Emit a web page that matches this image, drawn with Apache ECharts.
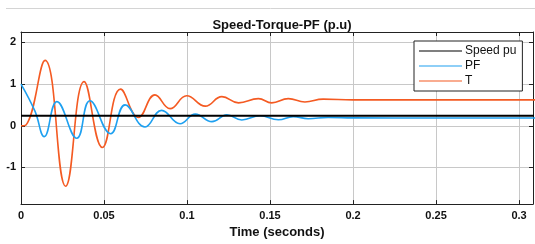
<!DOCTYPE html>
<html>
<head>
<meta charset="utf-8">
<script src="https://cdn.jsdelivr.net/npm/echarts@6/dist/echarts.min.js"></script>
<style>
  html, body { margin: 0; padding: 0; background: #fff; }
  #chart { width: 535px; height: 244px; }
</style>
</head>
<body>
<div id="chart"></div>
<script>
  // values (time in s, p.u.)
  var seriesNames = ['Speed pu', 'PF', 'T'];
  var xTicks = [0, 0.05, 0.1, 0.15, 0.2, 0.25, 0.3];
  var yTicks = [-1, 0, 1, 2];

  var speedTime = [0, 0.31];
  var speedVals = [0.24, 0.24];

  var pfTime = [0, 0.0084, 0.014, 0.0216, 0.0336, 0.0415, 0.054, 0.0627, 0.0747, 0.0847, 0.0958, 0.105,
                0.115, 0.124, 0.133, 0.144, 0.155, 0.164, 0.173, 0.185, 0.2, 0.25, 0.31];
  var pfVals = [1.0, 0.35, -0.26, 0.58, -0.30, 0.60, -0.19, 0.50, -0.03, 0.37, 0.05, 0.28,
                0.10, 0.26, 0.14, 0.24, 0.145, 0.22, 0.17, 0.2, 0.19, 0.185, 0.185];

  var tTime = [0, 0.003, 0.0145, 0.0269, 0.038, 0.049, 0.060, 0.0707, 0.0807, 0.0898, 0.0998, 0.111,
               0.121, 0.131, 0.143, 0.151, 0.161, 0.171, 0.182, 0.2, 0.25, 0.31];
  var tVals = [0, 0.02, 1.57, -1.45, 1.06, -0.52, 0.88, 0.20, 0.74, 0.41, 0.72, 0.47,
               0.70, 0.55, 0.65, 0.55, 0.65, 0.57, 0.64, 0.62, 0.62, 0.62];

  function pairs(xs, ys) {
    return xs.map(function (x, i) { return [x, ys[i]]; });
  }

  var myChart = echarts.init(document.getElementById('chart'));
  var font = 'Liberation Sans, Arial, sans-serif';

  // plain box edge (top / right) with inward ticks, like matlab "box on"
  function boxAxis(pos, min, max, ticks) {
    return {
      type: 'value', min: min, max: max, position: pos,
      axisLine: { show: true, onZero: false, lineStyle: { color: '#222', width: 1 } },
      axisTick: { show: true, inside: true, length: 4, customValues: ticks, lineStyle: { color: '#222' } },
      splitLine: { show: false },
      axisLabel: { show: false }
    };
  }

  var options = {
    animation: false,
    backgroundColor: '#fff',
    title: {
      text: 'Speed-Torque-PF (p.u)',
      left: 277, top: 14, textAlign: 'center',
      textStyle: { fontFamily: font, fontSize: 13, fontWeight: 'bold', color: '#111' }
    },
    graphic: [
      { type: 'line', shape: { x1: 6, y1: 8.5, x2: 535, y2: 8.5 }, style: { stroke: '#d4d4d4', lineWidth: 1 } }
    ],
    legend: {
      data: seriesNames,
      orient: 'vertical',
      left: 414, top: 41,
      width: 107,
      padding: [4, 6, 4, 5],
      itemGap: 3,
      itemWidth: 43, itemHeight: 11.5,
      icon: 'path://M0,5 L43,5 L43,6 L0,6 Z',
      backgroundColor: '#fff',
      borderColor: '#222', borderWidth: 1,
      textStyle: { fontFamily: font, fontSize: 12, color: '#111', padding: [0, 0, 0, -2] }
    },
    grid: { left: 21, right: 2, top: 32, bottom: 33 },
    xAxis: [{
      type: 'value', min: 0, max: 0.3084, position: 'bottom',
      name: 'Time (seconds)', nameLocation: 'middle', nameGap: 21,
      nameTextStyle: { fontFamily: font, fontSize: 13, fontWeight: 'bold', color: '#111' },
      axisLine: { show: true, onZero: false, lineStyle: { color: '#222', width: 1 } },
      axisTick: { show: true, inside: true, length: 4, customValues: xTicks, lineStyle: { color: '#222' } },
      axisLabel: { customValues: xTicks, margin: 6, fontFamily: font, fontSize: 11, fontWeight: 'bold', color: '#111' },
      splitLine: { show: true, lineStyle: { color: '#c8c8c8', width: 1 } }
    }, boxAxis('top', 0, 0.3084, xTicks)],
    yAxis: [{
      type: 'value', min: -1.88, max: 2.25, position: 'left',
      axisLine: { show: true, onZero: false, lineStyle: { color: '#222', width: 1 } },
      axisTick: { show: true, inside: true, length: 4, customValues: yTicks, lineStyle: { color: '#222' } },
      axisLabel: { customValues: yTicks, margin: 5, fontFamily: font, fontSize: 11, fontWeight: 'bold', color: '#111' },
      splitLine: { show: true, lineStyle: { color: '#c8c8c8', width: 1 } }
    }, boxAxis('right', -1.88, 2.25, yTicks)],
    series: [
      {
        name: 'Speed pu', type: 'line', showSymbol: false, z: 4,
        data: pairs(speedTime, speedVals),
        itemStyle: { color: '#000' },
        lineStyle: { color: '#000', width: 2 }
      },
      {
        name: 'PF', type: 'line', showSymbol: false, smooth: 0.45, z: 3,
        data: pairs(pfTime, pfVals),
        itemStyle: { color: '#1ea0f0' },
        lineStyle: { color: '#1ea0f0', width: 1.6 }
      },
      {
        name: 'T', type: 'line', showSymbol: false, smooth: 0.45, z: 2,
        data: pairs(tTime, tVals),
        itemStyle: { color: '#f45a22' },
        lineStyle: { color: '#f45a22', width: 1.6 }
      }
    ]
  };

  myChart.setOption(options, true);
</script>
</body>
</html>
